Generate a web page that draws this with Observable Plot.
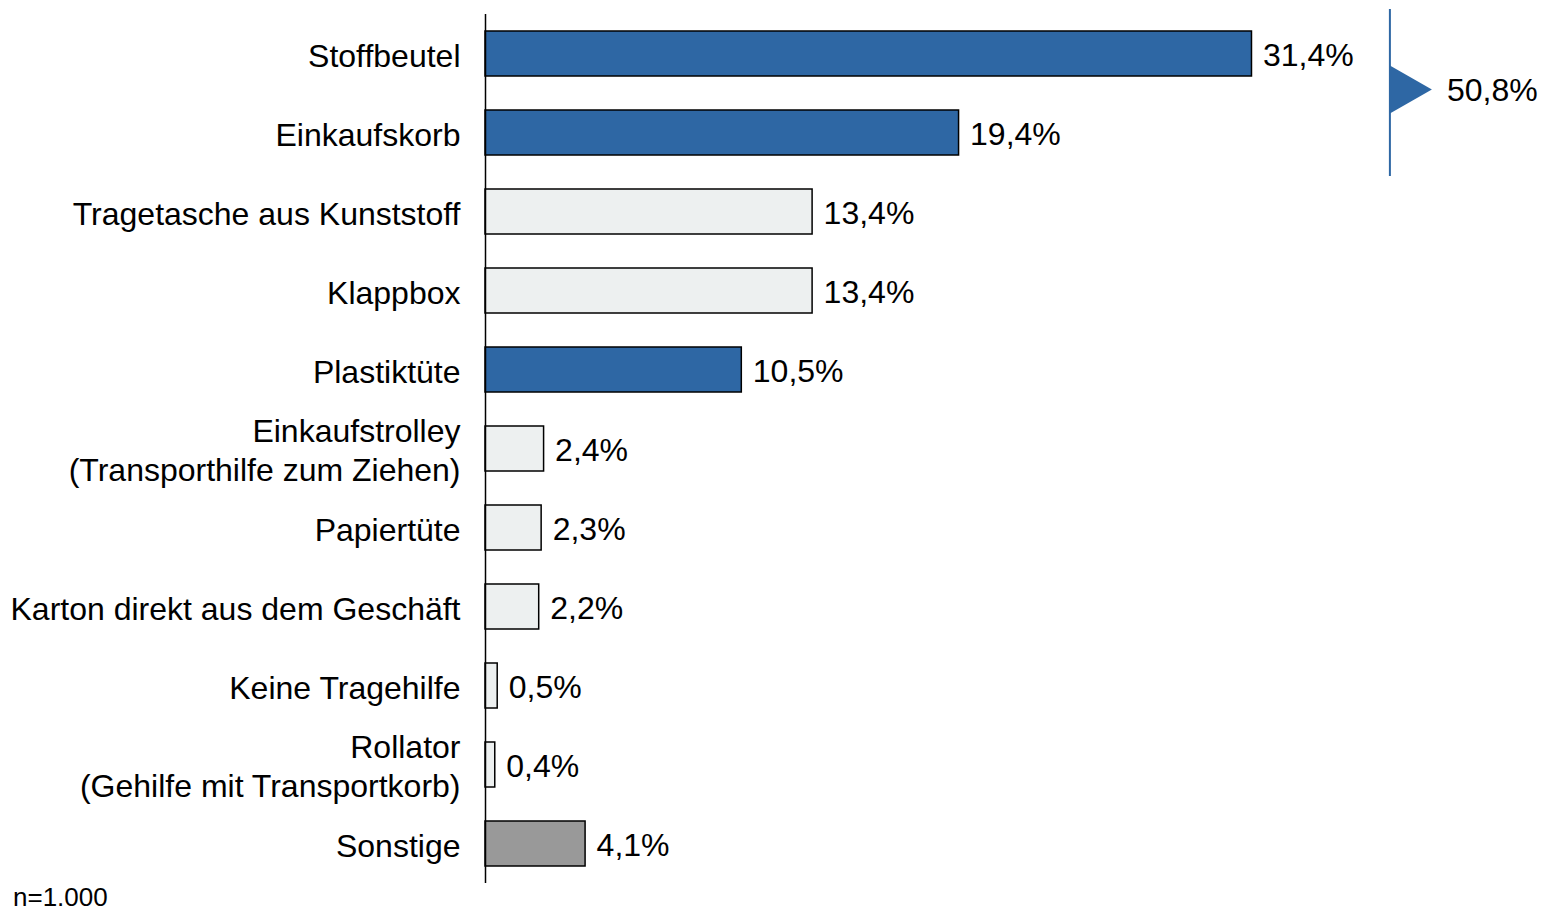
<!DOCTYPE html>
<html><head><meta charset="utf-8">
<script src="https://cdn.jsdelivr.net/npm/d3@7"></script>
<script src="https://cdn.jsdelivr.net/npm/@observablehq/plot@0.6"></script>
<style>
body{margin:0;background:#fff;font-family:"Liberation Sans",Arial,sans-serif;}
#caption{font-size:26px;line-height:26px;padding-left:13px;color:#000;}
</style></head><body>
<div id="chart"></div>
<div id="caption">n=1.000</div>
<script>
const categories = ["Stoffbeutel","Einkaufskorb","Tragetasche aus Kunststoff","Klappbox","Plastiktüte","Einkaufstrolley\n(Transporthilfe zum Ziehen)","Papiertüte","Karton direkt aus dem Geschäft","Keine Tragehilfe","Rollator\n(Gehilfe mit Transportkorb)","Sonstige"];
const shares = [31.4,19.4,13.4,13.4,10.5,2.4,2.3,2.2,0.5,0.4,4.1];
const groups = ["fokus","fokus","andere","andere","fokus","andere","andere","andere","andere","andere","sonstige"];
const groupNames = ["fokus","andere","sonstige"];
const bracketMembers = ["Stoffbeutel","Einkaufskorb"];
const bracketTotal = 50.8;

const fmt = v => v.toFixed(1).replace(".", ",") + "%";
const data = categories.map((c,i)=>({category:c, share:shares[i], group:groups[i]}));
const blue = "#2E67A4";
const bracketX = 37.07;

function bracket(index, scales) {
  const y = scales.y, x = scales.x;
  const bw = y.bandwidth ? y.bandwidth() : 45;
  const x0 = x(bracketX);
  const top = y(bracketMembers[0]) - 22;
  const bottom = y(bracketMembers[bracketMembers.length-1]) + bw + 21;
  const mid = (top + bottom) / 2 - 3;
  const g = d3.create("svg:g");
  g.append("line").attr("x1",x0).attr("x2",x0).attr("y1",top).attr("y2",bottom)
    .attr("stroke",blue).attr("stroke-width",2);
  g.append("path").attr("d",`M${x0},${mid-24}L${x0+42},${mid}L${x0},${mid+24}Z`).attr("fill",blue);
  g.append("text").attr("x",x0+57).attr("y",mid).attr("dy","0.35em")
    .attr("text-anchor","start").attr("font-size",32).attr("fill","#000").text(fmt(bracketTotal));
  return g.node();
}

const chart = Plot.plot({
  width:1541, height:884, marginLeft:485, marginRight:0, marginTop:14, marginBottom:1,
  style:{fontFamily:"'Liberation Sans', Arial, sans-serif", fontSize:"32px", color:"#000", background:"#fff", overflow:"visible"},
  x:{domain:[0,43.26], axis:null},
  y:{domain:categories, axis:null, paddingInner:0.43, paddingOuter:0.215},
  color:{domain:groupNames, range:[blue,"#EDF0F0","#999999"]},
  marks:[
    Plot.barX(data,{x:"share", y:"category", fill:"group", stroke:"#000", strokeWidth:1.5}),
    Plot.ruleX([0], {stroke:"#000", strokeWidth:1.5}),
    Plot.text(data,{x:0, y:"category", text:"category", textAnchor:"end", dx:-25, lineHeight:1.22, fontSize:32}),
    Plot.text(data,{x:"share", y:"category", text:d=>fmt(d.share), textAnchor:"start", dx:11, dy:2, fontSize:32}),
    bracket
  ]
});
document.getElementById("chart").append(chart);
</script>
</body></html>
